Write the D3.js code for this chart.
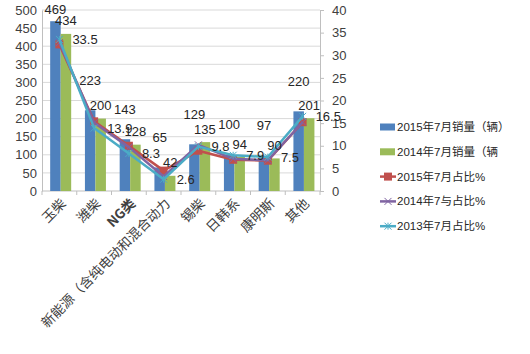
<!DOCTYPE html>
<html>
<head>
<meta charset="utf-8">
<script src="https://cdn.jsdelivr.net/npm/d3@7"></script>
<style>
    body { margin: 0; background: #fff; }
    text { font-family: "Liberation Sans", "Noto Sans CJK SC", sans-serif; }
</style>
</head>
<body>
<div id="chart"></div>
<script>

// categories and values
let categories = ["玉柴", "潍柴", "NG类", "新能源（含纯电动和混合动力", "锡柴", "日韩系", "康明斯", "其他"];
let sales2015 = [469, 223, 143, 65, 129, 100, 97, 220];
let sales2014 = [434, 200, 128, 42, 135, 94, 90, 201];
let share2015 = [32.4, 15.4, 10.0, 4.5, 8.9, 6.9, 6.7, 15.2];
let share2014 = [32.8, 15.1, 9.7, 3.2, 10.2, 7.1, 6.8, 15.2];
let share2013 = [33.5, 13.9, 8.3, 2.6, 9.8, 7.9, 7.5, 16.5];
let leftTicks = [0, 50, 100, 150, 200, 250, 300, 350, 400, 450, 500];
let rightTicks = [0, 5, 10, 15, 20, 25, 30, 35, 40];
let legendNames = ["2015年7月销量（辆）", "2014年7月销量（辆", "2015年7月占比%", "2014年7与占比%", "2013年7月占比%"];

let colors = {blue: "#4f81bd", green: "#9bbb59", red: "#c0504d", purple: "#8064a2", cyan: "#4bacc6"};

let margin = {top: 10, left: 42, right: 210, bottom: 163};
let width = 530, height = 354;
let plotW = width - margin.left - margin.right;
let plotH = height - margin.top - margin.bottom;

let svg = d3.select("#chart").append("svg")
    .attr("width", width)
    .attr("height", height);

let g = svg.append("g")
    .attr("transform", `translate(${margin.left}, ${margin.top})`);

// scales
let x = d3.scaleBand().domain(categories).range([0, plotW]);
let yLeft = d3.scaleLinear().domain([0, 500]).range([plotH, 0]);
let yRight = d3.scaleLinear().domain([0, 40]).range([plotH, 0]);
let barW = 10.5;

// gridlines
g.selectAll(".grid")
    .data(leftTicks.slice(1))
    .enter().append("line")
    .attr("x1", 0).attr("x2", plotW)
    .attr("y1", d => yLeft(d)).attr("y2", d => yLeft(d))
    .attr("stroke", "#d9d9d9").attr("stroke-width", 1);

// left axis
let leftAxis = g.append("g").call(d3.axisLeft(yLeft).tickValues(leftTicks).tickSize(0).tickPadding(5));
leftAxis.select(".domain").attr("stroke", "#bfbfbf");
leftAxis.selectAll("text").attr("font-size", 13).attr("fill", "#404040");

// right axis
let rightAxis = g.append("g")
    .attr("transform", `translate(${plotW}, 0)`)
    .call(d3.axisRight(yRight).tickValues(rightTicks).tickSize(4).tickPadding(8));
rightAxis.select(".domain").attr("stroke", "#bfbfbf");
rightAxis.selectAll("line").attr("stroke", "#bfbfbf");
rightAxis.selectAll("text").attr("font-size", 13).attr("fill", "#404040");

// bottom axis line and ticks at band edges
g.append("line")
    .attr("x1", 0).attr("x2", plotW)
    .attr("y1", plotH).attr("y2", plotH)
    .attr("stroke", "#bfbfbf");
g.selectAll(".xtick")
    .data(d3.range(categories.length + 1))
    .enter().append("line")
    .attr("x1", i => i * x.bandwidth()).attr("x2", i => i * x.bandwidth())
    .attr("y1", plotH).attr("y2", plotH + 4)
    .attr("stroke", "#bfbfbf");

// category labels
g.selectAll(".catLabel")
    .data(categories)
    .enter().append("text")
    .attr("transform", d => `translate(${x(d) + x.bandwidth() / 2 + 4}, ${plotH + 10}) rotate(-45)`)
    .attr("text-anchor", "end")
    .attr("dy", "0.35em")
    .attr("font-size", 13.5)
    .attr("font-weight", d => d === "NG类" ? "bold" : "normal")
    .attr("fill", "#404040")
    .style("font-family", "'Noto Sans CJK SC', sans-serif")
    .text(d => d);

// bars
let cx = d => x(d) + x.bandwidth() / 2 + 1.3;
g.selectAll(".bar15")
    .data(categories)
    .enter().append("rect")
    .attr("x", d => cx(d) - barW)
    .attr("y", (d, i) => yLeft(sales2015[i]))
    .attr("width", barW)
    .attr("height", (d, i) => plotH - yLeft(sales2015[i]))
    .attr("fill", colors.blue);
g.selectAll(".bar14")
    .data(categories)
    .enter().append("rect")
    .attr("x", d => cx(d))
    .attr("y", (d, i) => yLeft(sales2014[i]))
    .attr("width", barW)
    .attr("height", (d, i) => plotH - yLeft(sales2014[i]))
    .attr("fill", colors.green);

// share lines
let line = d3.line()
    .x((d, i) => x(categories[i]) + x.bandwidth() / 2)
    .y(d => yRight(d));

let drawLine = (vals, color) => {
    g.append("path")
        .datum(vals)
        .attr("d", line)
        .attr("fill", "none")
        .attr("stroke", color)
        .attr("stroke-width", 2.5)
        .attr("stroke-linejoin", "round");
};

drawLine(share2015, colors.red);
g.selectAll(".sq")
    .data(share2015)
    .enter().append("rect")
    .attr("x", (d, i) => x(categories[i]) + x.bandwidth() / 2 - 4)
    .attr("y", d => yRight(d) - 4)
    .attr("width", 8).attr("height", 8)
    .attr("fill", colors.red);

let starPath = s => `M${-s},${-s}L${s},${s}M${-s},${s}L${s},${-s}M0,${-s}L0,${s}`;

drawLine(share2014, colors.purple);
g.selectAll(".xmark")
    .data(share2014)
    .enter().append("path")
    .attr("transform", (d, i) => `translate(${x(categories[i]) + x.bandwidth() / 2}, ${yRight(d)})`)
    .attr("d", `M-3.5,-3.5L3.5,3.5M-3.5,3.5L3.5,-3.5`)
    .attr("stroke", colors.purple).attr("stroke-width", 1);

drawLine(share2013, colors.cyan);
g.selectAll(".star")
    .data(share2013)
    .enter().append("path")
    .attr("transform", (d, i) => `translate(${x(categories[i]) + x.bandwidth() / 2}, ${yRight(d)})`)
    .attr("d", starPath(3.5))
    .attr("stroke", colors.cyan).attr("stroke-width", 1);

// data labels
let labelStyle = sel => sel.attr("font-size", 13).attr("fill", "#262626");

g.selectAll(".lab15")
    .data(sales2015)
    .enter().append("text")
    .attr("x", (d, i) => cx(categories[i]) - barW / 2)
    .attr("y", d => Math.max(yLeft(d) - 30, -1))
    .attr("dy", "0.35em")
    .attr("text-anchor", "middle")
    .call(labelStyle)
    .text(d => d);

g.selectAll(".lab14")
    .data(sales2014)
    .enter().append("text")
    .attr("x", (d, i) => cx(categories[i]) + barW / 2)
    .attr("y", d => yLeft(d) - 13)
    .attr("dy", "0.35em")
    .attr("text-anchor", "middle")
    .call(labelStyle)
    .text(d => d);

g.selectAll(".lab13")
    .data(share2013)
    .enter().append("text")
    .attr("x", (d, i) => x(categories[i]) + x.bandwidth() / 2 + 13)
    .attr("y", d => yRight(d))
    .attr("dy", "0.35em")
    .call(labelStyle)
    .text(d => d);

// legend
let legend = svg.append("g").attr("transform", "translate(380, 127)");
let legendColors = [colors.blue, colors.green, colors.red, colors.purple, colors.cyan];
let rowH = 24.8;

legendNames.forEach((name, i) => {
    let row = legend.append("g").attr("transform", `translate(0, ${i * rowH})`);
    if (i < 2) {
        row.append("rect")
            .attr("x", 0).attr("y", -3.5)
            .attr("width", 15).attr("height", 7)
            .attr("fill", legendColors[i]);
    } else {
        row.append("line")
            .attr("x1", 0).attr("x2", 16)
            .attr("stroke", legendColors[i]).attr("stroke-width", 2.5);
        if (i === 2) {
            row.append("rect").attr("x", 4).attr("y", -4).attr("width", 8).attr("height", 8).attr("fill", legendColors[i]);
        } else {
            row.append("path")
                .attr("transform", "translate(8, 0)")
                .attr("d", i === 3 ? "M-3.5,-3.5L3.5,3.5M-3.5,3.5L3.5,-3.5" : starPath(3.5))
                .attr("stroke", legendColors[i]).attr("stroke-width", 1);
        }
    }
    row.append("text")
        .attr("x", 17)
        .attr("dy", "0.35em")
        .attr("font-size", 11.5)
        .attr("fill", "#262626")
        .text(name);
});

</script>
</body>
</html>
